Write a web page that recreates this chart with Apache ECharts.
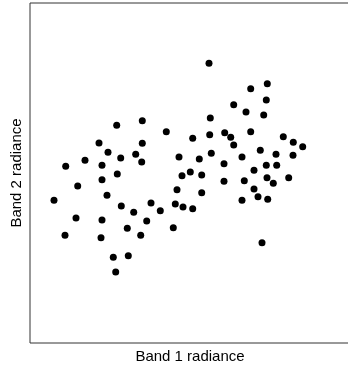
<!DOCTYPE html>
<html>
<head>
<meta charset="utf-8">
<script src="https://cdn.jsdelivr.net/npm/echarts@6/dist/echarts.min.js"></script>
<style>html,body{margin:0;padding:0;background:#fff}#c{width:348px;height:365px}</style>
</head>
<body>
<div id="c"></div>
<script>
const xLabel = "Band 1 radiance";
const yLabel = "Band 2 radiance";
const band1 = [179,237.3,220.7,236.3,203.7,216,233.7,180.3,112.3,86.7,136.3,220.7,194.7,179.7,200.7,162.7,253.3,263.3,69,112.3,203.7,272.7,230.3,78,105.7,181.3,246,263,212,90.7,149,55,169.3,111.7,194,35.7,72,236.3,246.7,224,160.3,87.3,152,171.7,258.7,237,72,194,214.3,243.3,47.7,224,147,171.7,77,228,24,212,237.7,121,145.3,91.3,153,162.7,130.3,103.7,46,72,116.7,143.3,97.3,35,110.7,71,232,83.3,98.3,85.7];
const band2 = [279.7,259.3,254.3,243,238.3,231,228,225,222.3,217.7,211.3,211.3,210.3,208.3,205.7,204.7,206.3,200.7,200,199.7,198,196.3,192.7,190.7,188.7,189.7,188.7,187.7,186,185,186,182.7,184,181,179.3,176.7,177.7,177.7,177.7,172.7,171,169,167.3,168,165.3,165.3,163.3,161.7,162.3,159.7,157,154,153.3,150.3,147.7,146.3,142.7,142.7,143.7,140,139,137,136,134.3,132.3,130.7,125,123,122,115.3,114.7,107.7,107.7,105.3,100.3,85.7,87.3,71];
const points = band1.map((x, i) => [x, band2[i]]);

const chart = echarts.init(document.getElementById('c'), null, {renderer: 'canvas'});
chart.setOption({
  animation: false,
  backgroundColor: '#fff',
  grid: {left: 30, right: -2, top: 3, bottom: 22, containLabel: false, outerBoundsMode: 'none',
         show: true, borderColor: '#333', borderWidth: 1, backgroundColor: 'transparent'},
  xAxis: {
    type: 'value', min: 0, max: 320,
    name: xLabel, nameLocation: 'middle', nameGap: 6,
    nameTextStyle: {fontFamily: 'Liberation Sans, Arial, sans-serif', fontSize: 15, color: '#000'},
    axisLine: {show: false}, axisTick: {show: false}, axisLabel: {show: false}, splitLine: {show: false}
  },
  yAxis: {
    type: 'value', min: 0, max: 340,
    name: yLabel, nameLocation: 'middle', nameGap: 6,
    nameTextStyle: {fontFamily: 'Liberation Sans, Arial, sans-serif', fontSize: 15, color: '#000'},
    axisLine: {show: false}, axisTick: {show: false}, axisLabel: {show: false}, splitLine: {show: false}
  },
  series: [{
    type: 'scatter',
    data: points,
    symbol: 'circle',
    symbolSize: 7,
    itemStyle: {color: '#000', opacity: 1}
  }]
});
</script>
</body>
</html>
